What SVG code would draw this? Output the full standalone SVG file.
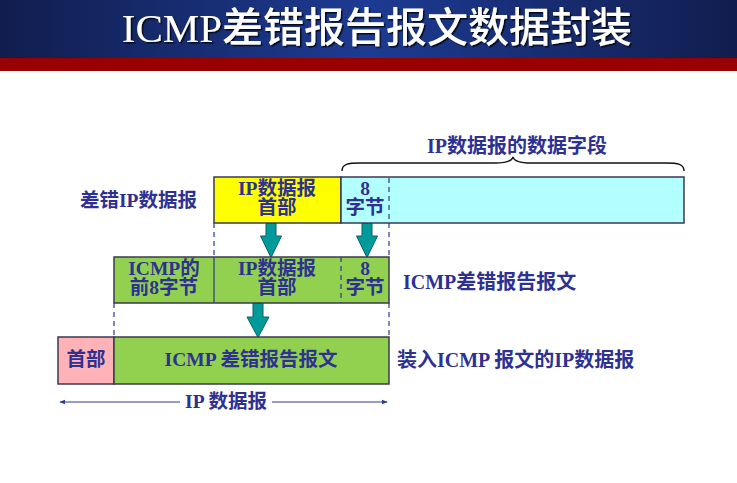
<svg xmlns="http://www.w3.org/2000/svg" width="737" height="483" viewBox="0 0 737 483">
<defs>
  <linearGradient id="band" x1="0" y1="0" x2="1" y2="0">
    <stop offset="0" stop-color="#111d4e"/>
    <stop offset="0.5" stop-color="#1d3b93"/>
    <stop offset="1" stop-color="#111d4e"/>
  </linearGradient>
  <filter id="shadow" x="-5%" y="-20%" width="110%" height="140%">
    <feDropShadow dx="1.5" dy="1.5" stdDeviation="0.5" flood-color="#000000" flood-opacity="0.8"/>
  </filter>
  <marker id="ah" viewBox="0 0 10 10" refX="9" refY="5" markerWidth="5" markerHeight="5" orient="auto-start-reverse">
    <path d="M0,1 L10,5 L0,9 z" fill="#2b3a8f"/>
  </marker>
</defs>
<style>
  .t { font-family: "Liberation Serif", "Noto Sans CJK SC", serif; font-weight: bold; fill: #2e3192; font-size: 19.5px; }
  .c { text-anchor: middle; }
  .box { stroke: #3a3a50; stroke-width: 1.5; }
  .div { stroke: #2b3a8f; stroke-width: 1.2; fill: none; }
  .dash { stroke: #2b3a8f; stroke-width: 1.2; stroke-dasharray: 5 4; fill: none; }
  .arrow { fill: #009a9a; stroke: #0a5f6a; stroke-width: 1; }
</style>

<g id="title">
  <rect x="0" y="0" width="737" height="58" fill="url(#band)"/>
  <rect x="0" y="58" width="737" height="13" fill="#990000"/>
  <text x="377" y="42" text-anchor="middle" filter="url(#shadow)" style="font-family: 'Liberation Serif', 'Noto Sans CJK SC', serif; font-size: 41px; font-weight: 500; fill: #ffffff;">ICMP差错报告报文数据封装</text>
</g>

<g id="connectors">
  <!-- dashed guides -->
  <line class="dash" x1="214" y1="223" x2="214" y2="257"/>
  <line class="dash" x1="389" y1="223" x2="389" y2="257"/>
  <line class="dash" x1="114" y1="303" x2="114" y2="337"/>
  <line class="dash" x1="389" y1="303" x2="389" y2="337"/>
  <!-- brace -->
  <path d="M342,171 C342,164 348,163 360,163 L495,163 C506,163 512,161 513,157 C514,161 520,163 531,163 L666,163 C678,163 684,164 684,171" fill="none" stroke="#111111" stroke-width="1.3"/>
  <!-- block arrows -->
  <path class="arrow" d="M266,223 L276,223 L276,236 L281.5,236 L271,257.5 L260.5,236 L266,236 Z"/>
  <path class="arrow" d="M362,223 L372,223 L372,236 L377.5,236 L367,257.5 L356.5,236 L362,236 Z"/>
  <path class="arrow" d="M253,303 L263,303 L263,317 L269,317 L258,337.5 L247,317 L253,317 Z"/>
  <!-- IP datagram span -->
  <line x1="60" y1="402" x2="180" y2="402" stroke="#2b3a8f" stroke-width="1.2" marker-start="url(#ah)"/>
  <line x1="272" y1="402" x2="387" y2="402" stroke="#2b3a8f" stroke-width="1.2" marker-end="url(#ah)"/>
</g>

<g id="label-data-field">
  <text class="t c" x="517" y="153" style="font-size:20px">IP数据报的数据字段</text>
</g>

<g id="row1">
  <text class="t" x="80" y="207">差错IP数据报</text>
  <g id="ip-header-1">
    <rect class="box" x="214" y="177" width="127" height="46" fill="#ffff00"/>
    <text class="t c" x="277" y="195">IP数据报</text>
    <text class="t c" x="277" y="214">首部</text>
  </g>
  <g id="data-field-1">
    <rect class="box" x="341" y="177" width="343" height="46" fill="#b3ffff"/>
    <line class="dash" x1="389" y1="178" x2="389" y2="223"/>
    <text class="t c" x="365" y="195">8</text>
    <text class="t c" x="365" y="214">字节</text>
  </g>
</g>

<g id="row2">
  <g id="icmp-msg">
    <rect class="box" x="114" y="257" width="275" height="46" fill="#92d050"/>
    <line class="div" x1="214" y1="257" x2="214" y2="303"/>
    <line class="dash" x1="341" y1="257" x2="341" y2="303"/>
    <text class="t c" x="164" y="275">ICMP的</text>
    <text class="t c" x="164" y="294">前8字节</text>
    <text class="t c" x="277" y="275">IP数据报</text>
    <text class="t c" x="277" y="294">首部</text>
    <text class="t c" x="365" y="275">8</text>
    <text class="t c" x="365" y="294">字节</text>
  </g>
  <text class="t" x="403" y="289" style="font-size:20px">ICMP差错报告报文</text>
</g>

<g id="row3">
  <g id="ip-header-3">
    <rect class="box" x="58" y="337" width="56" height="47" fill="#ffb3b8"/>
    <text class="t c" x="86" y="366">首部</text>
  </g>
  <g id="icmp-body-3">
    <rect class="box" x="114" y="337" width="275" height="47" fill="#92d050"/>
    <text class="t c" x="251" y="366">ICMP 差错报告报文</text>
  </g>
  <text class="t" x="397" y="367" style="font-size:20px">装入ICMP 报文的IP数据报</text>
</g>

<g id="label-ip-datagram">
  <text class="t c" x="226" y="408">IP 数据报</text>
</g>
</svg>
